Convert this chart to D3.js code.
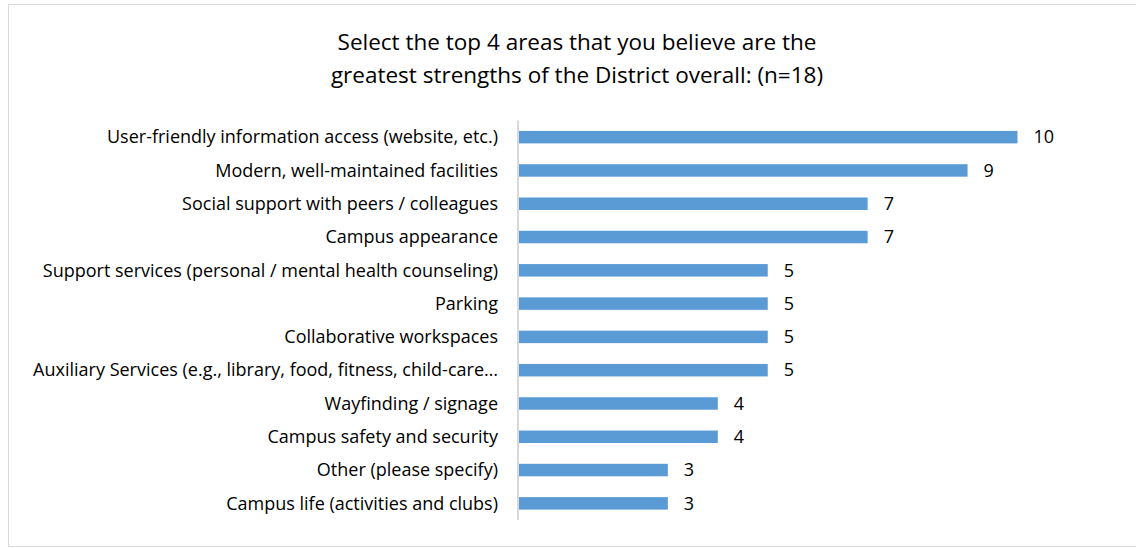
<!DOCTYPE html>
<html lang="en">
<head>
<meta charset="UTF-8">
<title>Greatest strengths of the District</title>
<script src="https://d3js.org/d3.v7.min.js"></script>
<style>
    body { margin: 0; background: #fff; font-family: "Open Sans", "Liberation Sans", sans-serif; }
    .label { font-size: 18px; fill: #000; }
    .title { font-size: 22.5px; fill: #000; }
</style>
</head>
<body>
<div id="chart"></div>
<script>
    const categories = [
        "User-friendly information access (website, etc.)",
        "Modern, well-maintained facilities",
        "Social support with peers / colleagues",
        "Campus appearance",
        "Support services (personal / mental health counseling)",
        "Parking",
        "Collaborative workspaces",
        "Auxiliary Services (e.g., library, food, fitness, child-care\u2026",
        "Wayfinding / signage",
        "Campus safety and security",
        "Other (please specify)",
        "Campus life (activities and clubs)"
    ];
    const counts = [10, 9, 7, 7, 5, 5, 5, 5, 4, 4, 3, 3];
    const titleLines = [
        "Select the top 4 areas that you believe are the",
        "greatest strengths of the District overall: (n=18)"
    ];

    const width = 1136, height = 548;
    const x0 = 518, plotTop = 120.5, plotBottom = 520;

    const svg = d3.select("#chart").append("svg")
        .attr("width", width)
        .attr("height", height);

    // chart frame
    svg.append("rect")
        .attr("x", 8.5).attr("y", 4.5)
        .attr("width", 1140).attr("height", 542)
        .attr("fill", "#fff")
        .attr("stroke", "#d9d9d9");

    const x = d3.scaleLinear().domain([0, 10]).range([x0, 1017.5]);
    const y = d3.scaleBand().domain(categories).range([plotTop, plotBottom]).paddingInner(0.625).paddingOuter(0.3125);

    svg.append("g").selectAll("text")
        .data(titleLines)
        .join("text")
        .attr("class", "title")
        .attr("x", 577)
        .attr("y", (d, i) => 50 + i * 33)
        .attr("text-anchor", "middle")
        .text(d => d);

    svg.append("g").selectAll("rect")
        .data(counts)
        .join("rect")
        .attr("x", x(0))
        .attr("y", (d, i) => y(categories[i]))
        .attr("width", d => x(d) - x(0))
        .attr("height", y.bandwidth())
        .attr("fill", "#5b9bd5");

    // category axis line
    svg.append("line")
        .attr("x1", x0).attr("x2", x0)
        .attr("y1", plotTop).attr("y2", plotBottom)
        .attr("stroke", "#d9d9d9")
        .attr("stroke-width", 2);

    svg.append("g").selectAll("text")
        .data(categories)
        .join("text")
        .attr("class", "label")
        .attr("x", x0 - 20)
        .attr("y", d => y(d) + y.bandwidth() / 2)
        .attr("dy", "0.35em")
        .attr("text-anchor", "end")
        .text(d => d);

    svg.append("g").selectAll("text")
        .data(counts)
        .join("text")
        .attr("class", "label")
        .attr("x", d => x(d) + 16)
        .attr("y", (d, i) => y(categories[i]) + y.bandwidth() / 2)
        .attr("dy", "0.35em")
        .text(d => d);
</script>
</body>
</html>
